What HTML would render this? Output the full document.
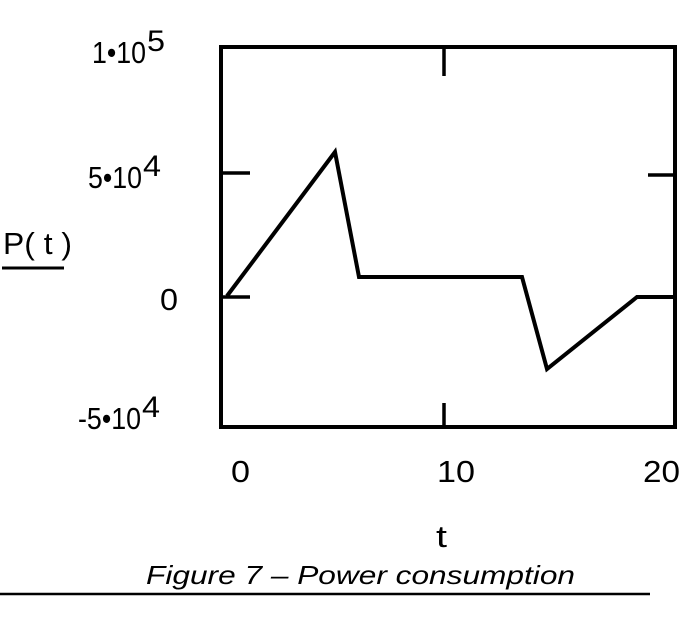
<!DOCTYPE html>
<html><head><style>
body{margin:0;background:#fff;width:694px;height:623px;overflow:hidden}
svg text{font-family:"Liberation Sans",sans-serif;fill:#000}
</style></head><body>
<svg width="694" height="623" viewBox="0 0 694 623">
<rect x="221" y="47" width="454" height="380" fill="none" stroke="#000" stroke-width="4"/>
<g stroke="#000" stroke-width="3.5">
<line x1="221" y1="173" x2="250" y2="173"/>
<line x1="221" y1="297" x2="250" y2="297"/>
<line x1="648" y1="175" x2="675" y2="175"/>
<line x1="648" y1="297" x2="675" y2="297"/>
<line x1="444" y1="47" x2="444" y2="76"/>
<line x1="444" y1="403" x2="444" y2="427"/>
</g>
<polyline points="227,296 335,152 359,277 522,277 547,369 637,297 675,297" fill="none" stroke="#000" stroke-width="4" stroke-linejoin="miter"/>
<g font-size="31">
<text x="92" y="63" textLength="54" lengthAdjust="spacingAndGlyphs">1•10</text>
<text x="147" y="51" font-size="30" textLength="18" lengthAdjust="spacingAndGlyphs">5</text>
<text x="88" y="188" textLength="54" lengthAdjust="spacingAndGlyphs">5•10</text>
<text x="143" y="176" font-size="30" textLength="18" lengthAdjust="spacingAndGlyphs">4</text>
<text x="160" y="310" textLength="18" lengthAdjust="spacingAndGlyphs">0</text>
<text x="78" y="429" textLength="63" lengthAdjust="spacingAndGlyphs">-5•10</text>
<text x="142" y="417" font-size="30" textLength="18" lengthAdjust="spacingAndGlyphs">4</text>
<text x="3" y="254" font-size="31" textLength="69" lengthAdjust="spacingAndGlyphs">P( t )</text>
<text x="231" y="482" font-size="31" textLength="19" lengthAdjust="spacingAndGlyphs">0</text>
<text x="437" y="482" font-size="31" textLength="38" lengthAdjust="spacingAndGlyphs">10</text>
<text x="643" y="482" font-size="31" textLength="37" lengthAdjust="spacingAndGlyphs">20</text>
<text x="436" y="547" font-size="31" textLength="11" lengthAdjust="spacingAndGlyphs">t</text>
</g>
<line x1="2" y1="268" x2="64" y2="268" stroke="#000" stroke-width="3"/>
<text x="146" y="584" font-size="26" font-style="italic" textLength="429" lengthAdjust="spacingAndGlyphs">Figure 7 – Power consumption</text>
<line x1="0" y1="594" x2="650" y2="594" stroke="#000" stroke-width="2.5"/>
</svg>
</body></html>
